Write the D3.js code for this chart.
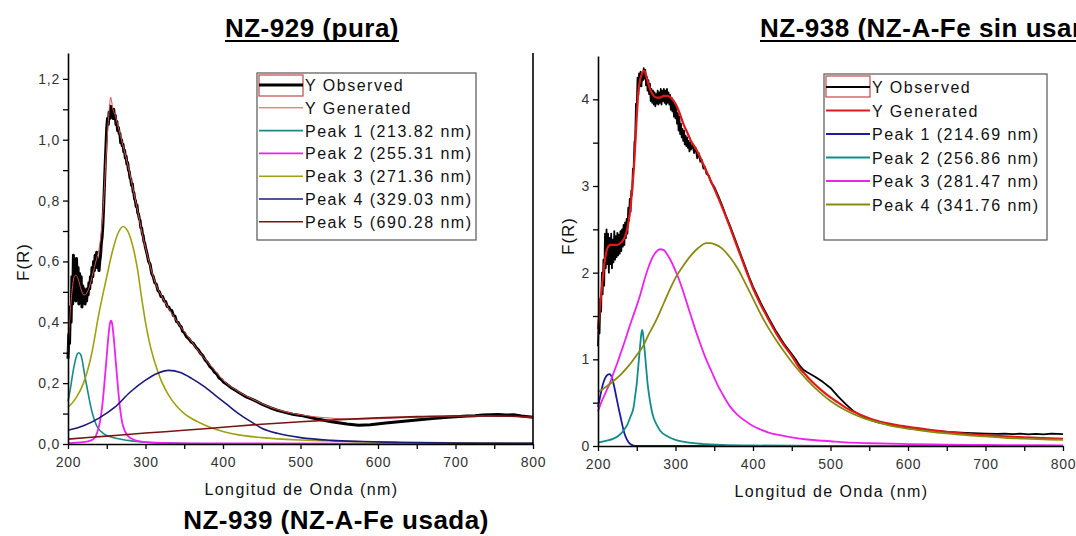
<!DOCTYPE html>
<html>
<head>
<meta charset="utf-8">
<script src="https://cdn.jsdelivr.net/npm/d3@7/dist/d3.min.js"></script>
<style>
  html, body { margin: 0; padding: 0; background: #ffffff; overflow: hidden; }
  svg { display: block; }
  text { font-family: "Liberation Sans", Arial, Helvetica, sans-serif; }
</style>
</head>
<body>
<svg id="chart" width="1076" height="536"></svg>
<script>
// ---------- Titles and axis text ----------
const panelTitles = ["NZ-929 (pura)", "NZ-938 (NZ-A-Fe sin usar)", "NZ-939 (NZ-A-Fe usada)"];
const xAxisTitle = "Longitud de Onda (nm)";
const yAxisTitle = "F(R)";

const xTickValues = [200, 250, 300, 350, 400, 450, 500, 550, 600, 650, 700, 750, 800];
const xTickLabels = ["200", "", "300", "", "400", "", "500", "", "600", "", "700", "", "800"];

const leftYTickValues = [0, 0.1, 0.2, 0.3, 0.4, 0.5, 0.6, 0.7, 0.8, 0.9, 1.0, 1.1, 1.2];
const leftYTickLabels = ["0,0", "", "0,2", "", "0,4", "", "0,6", "", "0,8", "", "1,0", "", "1,2"];
const rightYTickValues = [0, 0.5, 1, 1.5, 2, 2.5, 3, 3.5, 4];
const rightYTickLabels = ["0", "", "1", "", "2", "", "3", "", "4"];

const leftLegend = ["Y Observed", "Y Generated", "Peak 1 (213.82 nm)", "Peak 2 (255.31 nm)",
                    "Peak 3 (271.36 nm)", "Peak 4 (329.03 nm)", "Peak 5 (690.28 nm)"];
const rightLegend = ["Y Observed", "Y Generated", "Peak 1 (214.69 nm)", "Peak 2 (256.86 nm)",
                     "Peak 3 (281.47 nm)", "Peak 4 (341.76 nm)"];

// ---------- NZ-929 (pura): [wavelength nm, F(R)] ----------
const leftObserved = [
  [200,0.28],[201,0.36],[202,0.33],[203,0.45],[204,0.40],[205,0.55],[206,0.46],[207,0.62],[208,0.50],[209,0.60],
  [210,0.47],[211,0.61],[212,0.52],[213,0.58],[214,0.46],[215,0.56],[216,0.49],[217,0.55],[218,0.45],[219,0.52],
  [220,0.47],[221,0.51],[222,0.46],[223,0.49],[224,0.47],[225,0.51],[226,0.49],[227,0.53],[228,0.51],[229,0.55],
  [230,0.53],[231,0.58],[232,0.55],[233,0.60],[234,0.57],[235,0.62],[236,0.58],[237,0.63],[238,0.58],[239,0.60],
  [240,0.57],[241,0.60],[242,0.62],[243,0.66],[244,0.68],[245,0.72],[246,0.78],[247,0.85],[248,0.92],[249,0.98],
  [250,1.04],[251,1.07],[252,1.05],[253,1.09],[254,1.07],[255,1.11],[256,1.08],[257,1.10],[258,1.07],[259,1.10],
  [260,1.07],[261,1.08],[262,1.05],[263,1.06],[264,1.03],[265,1.04],[266,1.02],[267,1.02],[268,0.99],[269,1.00],
  [270,0.98],[271,0.985],[272,0.96],[273,0.965],[274,0.94],[275,0.945],[276,0.92],[277,0.925],[278,0.90],[279,0.895],
  [280,0.875],[281,0.87],[282,0.85],[283,0.855],[284,0.83],[285,0.825],[286,0.805],[287,0.80],[288,0.78],[289,0.785],
  [290,0.76],[291,0.755],[292,0.74],[293,0.735],[294,0.71],[295,0.71],[296,0.69],[297,0.685],[298,0.665],[299,0.66],
  [300,0.645],[302,0.625],[304,0.60],[306,0.59],[308,0.56],[310,0.55],[312,0.53],[314,0.525],[316,0.505],[318,0.50],
  [320,0.485],[322,0.485],[324,0.47],[326,0.468],[328,0.452],[330,0.45],[332,0.44],[334,0.438],[336,0.422],[338,0.42],
  [340,0.402],[342,0.40],[344,0.39],[346,0.385],[348,0.37],[350,0.366],[353,0.352],[356,0.346],[359,0.335],[362,0.33],
  [365,0.318],[368,0.31],[371,0.298],[374,0.29],[377,0.276],[380,0.268],[383,0.255],[386,0.248],[389,0.236],[392,0.23],
  [395,0.217],[398,0.212],[401,0.203],[405,0.196],[410,0.186],[415,0.178],[420,0.17],[430,0.155],[440,0.144],[450,0.131],
  [460,0.12],[470,0.111],[480,0.104],[490,0.098],[500,0.094],[520,0.083],[540,0.073],[560,0.066],[575,0.062],[590,0.063],
  [610,0.069],[630,0.074],[650,0.079],[670,0.084],[690,0.088],[705,0.090],[715,0.092],[725,0.093],[735,0.095],[745,0.096],
  [755,0.097],[765,0.095],[775,0.096],[785,0.092],[800,0.088]
];
const leftGenerated = [
  [200,0.30],[202,0.40],[204,0.47],[206,0.52],[208,0.55],[210,0.555],[212,0.55],[214,0.535],[216,0.515],[218,0.50],
  [220,0.49],[222,0.49],[225,0.50],[228,0.52],[231,0.55],[234,0.58],[237,0.61],[240,0.64],[243,0.70],[246,0.80],
  [249,0.94],[252,1.06],[254,1.12],[255,1.14],[256,1.13],[258,1.10],[261,1.08],[264,1.05],[268,1.01],[272,0.97],
  [276,0.93],[280,0.885],[285,0.825],[290,0.765],[295,0.70],[300,0.645],[305,0.595],[310,0.55],[315,0.515],[320,0.49],
  [330,0.445],[340,0.405],[350,0.37],[360,0.335],[370,0.30],[380,0.27],[390,0.24],[400,0.21],[420,0.172],[440,0.145],
  [460,0.122],[480,0.106],[500,0.096],[520,0.089],[540,0.085],[560,0.082],[580,0.082],[600,0.083],[620,0.085],[640,0.087],
  [660,0.088],[680,0.090],[700,0.091],[720,0.092],[740,0.092],[760,0.091],[780,0.090],[800,0.088]
];
const leftPeak1 = [
  [200,0.14],[203,0.18],[206,0.23],[209,0.27],[212,0.295],[214,0.30],[216,0.295],[218,0.28],[220,0.25],[222,0.22],
  [225,0.18],[228,0.14],[231,0.105],[234,0.08],[237,0.06],[240,0.048],[245,0.036],[250,0.028],[260,0.02],[270,0.015],
  [280,0.011],[300,0.006],[330,0.003],[380,0.001],[500,0.0],[800,0.0]
];
const leftPeak2 = [
  [200,0.003],[220,0.006],[230,0.012],[235,0.022],[238,0.04],[241,0.07],[244,0.12],[247,0.20],[250,0.29],[252,0.35],
  [254,0.395],[255.5,0.405],[257,0.395],[259,0.35],[261,0.29],[264,0.20],[267,0.12],[270,0.07],[273,0.045],[278,0.025],
  [285,0.014],[295,0.008],[320,0.004],[400,0.002],[800,0.001]
];
const leftPeak3 = [
  [200,0.12],[210,0.15],[220,0.20],[230,0.29],[240,0.43],[250,0.55],[258,0.64],[265,0.695],[271,0.715],[278,0.695],
  [285,0.635],[290,0.57],[295,0.48],[300,0.40],[305,0.335],[310,0.285],[315,0.245],[320,0.21],[330,0.16],[340,0.125],
  [350,0.10],[360,0.083],[370,0.07],[380,0.058],[400,0.041],[420,0.03],[450,0.021],[500,0.013],[550,0.009],[600,0.006],
  [700,0.004],[800,0.003]
];
const leftPeak4 = [
  [200,0.045],[220,0.06],[240,0.085],[260,0.12],[280,0.17],[300,0.21],[315,0.232],[330,0.242],[345,0.235],[360,0.215],
  [375,0.19],[390,0.16],[405,0.13],[420,0.10],[435,0.075],[450,0.052],[470,0.035],[500,0.021],[540,0.012],[580,0.008],
  [630,0.005],[700,0.003],[800,0.002]
];
const leftPeak5 = [
  [200,0.016],[250,0.026],[300,0.036],[350,0.045],[400,0.055],[450,0.065],[500,0.073],[550,0.080],[600,0.086],[650,0.090],
  [690,0.092],[730,0.092],[770,0.091],[800,0.089]
];

// ---------- NZ-938 (NZ-A-Fe sin usar): [wavelength nm, F(R)] ----------
const rightObserved = [
  [200,1.15],[201,1.45],[202,1.30],[203,1.70],[204,1.55],[205,2.00],[206,1.75],[207,2.15],[208,1.85],[209,2.45],
  [210,2.05],[211,2.50],[212,2.10],[213,2.45],[214,2.00],[215,2.40],[216,2.10],[217,2.45],[218,2.05],[219,2.38],
  [220,2.12],[221,2.48],[222,2.15],[223,2.42],[224,2.18],[225,2.46],[226,2.20],[227,2.44],[228,2.22],[229,2.48],
  [230,2.25],[231,2.50],[232,2.30],[233,2.55],[234,2.32],[235,2.58],[236,2.40],[237,2.62],[238,2.45],[239,2.75],
  [240,2.60],[241,2.85],[242,2.70],[243,2.95],[244,2.90],[245,3.20],[246,3.20],[247,3.50],[248,3.55],[249,3.95],
  [250,3.90],[251,4.25],[252,4.05],[253,4.30],[254,4.15],[255,4.32],[256,4.15],[257,4.30],[258,4.22],[259,4.36],
  [260,4.24],[261,4.34],[262,4.16],[263,4.26],[264,4.10],[265,4.22],[266,4.06],[267,4.18],[268,3.98],[269,4.12],
  [270,3.96],[271,4.10],[272,3.94],[273,4.08],[274,3.92],[275,4.06],[276,3.95],[277,4.10],[278,3.94],[279,4.08],
  [280,3.96],[281,4.12],[282,3.94],[283,4.10],[284,3.98],[285,4.12],[286,3.96],[287,4.10],[288,3.94],[289,4.12],
  [290,3.96],[291,4.08],[292,3.94],[293,4.05],[294,3.88],[295,4.02],[296,3.86],[297,3.98],[298,3.80],[299,3.94],
  [300,3.78],[301,3.92],[302,3.72],[303,3.84],[304,3.64],[305,3.80],[306,3.60],[307,3.72],[308,3.56],[309,3.66],
  [310,3.52],[311,3.64],[312,3.48],[313,3.58],[314,3.46],[315,3.56],[316,3.44],[317,3.52],[318,3.40],[319,3.50],
  [320,3.42],[322,3.48],[324,3.38],[326,3.44],[328,3.32],[330,3.38],[332,3.28],[334,3.30],[336,3.20],[338,3.22],
  [340,3.14],[343,3.12],[346,3.04],[350,2.99],[355,2.89],[360,2.78],[365,2.66],[370,2.55],[375,2.43],[380,2.31],
  [385,2.19],[390,2.07],[395,1.95],[400,1.84],[410,1.65],[420,1.48],[430,1.32],[440,1.18],[450,1.06],[455,1.00],
  [460,0.93],[465,0.88],[470,0.85],[480,0.80],[490,0.74],[500,0.67],[510,0.57],[520,0.48],[530,0.40],[540,0.35],
  [550,0.305],[560,0.275],[580,0.235],[600,0.205],[625,0.18],[650,0.163],[675,0.152],[700,0.143],[715,0.140],[725,0.142],
  [735,0.136],[745,0.143],[755,0.134],[765,0.141],[775,0.135],[785,0.142],[800,0.136]
];
const rightGenerated = [
  [200,1.35],[203,1.65],[206,1.92],[209,2.15],[212,2.28],[216,2.32],[220,2.32],[225,2.32],[230,2.35],[235,2.42],
  [238,2.52],[241,2.68],[244,2.95],[247,3.30],[250,3.80],[252,4.08],[255,4.25],[258,4.32],[260,4.33],[262,4.28],
  [265,4.18],[268,4.10],[272,4.04],[276,4.02],[280,4.02],[285,4.04],[290,4.04],[295,4.01],[300,3.95],[305,3.85],
  [310,3.72],[315,3.62],[320,3.52],[325,3.45],[330,3.37],[335,3.27],[340,3.17],[345,3.07],[350,2.97],[360,2.76],
  [370,2.53],[380,2.29],[390,2.05],[400,1.82],[410,1.63],[420,1.46],[430,1.30],[440,1.16],[450,1.04],[460,0.90],
  [470,0.80],[480,0.71],[490,0.63],[500,0.56],[510,0.50],[520,0.44],[530,0.395],[540,0.355],[550,0.32],[560,0.29],
  [580,0.25],[600,0.22],[625,0.19],[650,0.163],[675,0.14],[700,0.123],[725,0.11],[750,0.10],[775,0.09],[800,0.083]
];
const rightPeak1 = [
  [200,0.45],[203,0.58],[206,0.70],[209,0.78],[212,0.82],[215,0.83],[218,0.79],[221,0.68],[224,0.55],[227,0.42],
  [230,0.30],[233,0.18],[236,0.10],[239,0.05],[242,0.02],[246,0.005],[250,0.0],[800,0.0]
];
const rightPeak2 = [
  [200,0.04],[210,0.06],[220,0.085],[228,0.13],[234,0.19],[238,0.25],[242,0.34],[246,0.45],[248,0.58],[250,0.72],
  [252,0.92],[254,1.12],[256,1.30],[257,1.34],[258,1.30],[260,1.12],[262,0.92],[264,0.72],[266,0.58],[268,0.47],
  [270,0.38],[272,0.32],[276,0.24],[280,0.18],[290,0.11],[300,0.07],[310,0.05],[320,0.035],[340,0.02],[360,0.012],
  [400,0.006],[500,0.002],[800,0.0]
];
const rightPeak3 = [
  [200,0.40],[205,0.52],[210,0.62],[215,0.72],[220,0.84],[225,0.96],[230,1.09],[235,1.22],[240,1.36],[245,1.49],
  [250,1.62],[255,1.76],[260,1.92],[265,2.06],[270,2.17],[275,2.24],[280,2.27],[285,2.26],[290,2.20],[295,2.12],
  [300,2.02],[305,1.91],[310,1.78],[315,1.64],[320,1.50],[325,1.36],[330,1.23],[336,1.08],[340,0.99],[345,0.89],
  [350,0.79],[355,0.69],[360,0.61],[365,0.53],[370,0.46],[380,0.36],[390,0.29],[400,0.23],[410,0.19],[420,0.155],
  [435,0.125],[450,0.10],[470,0.075],[500,0.055],[520,0.042],[550,0.032],[600,0.022],[650,0.016],[700,0.012],[750,0.010],
  [800,0.008]
];
const rightPeak4 = [
  [200,0.62],[210,0.68],[220,0.75],[230,0.83],[240,0.93],[250,1.05],[258,1.15],[265,1.28],[275,1.45],[285,1.65],
  [295,1.85],[300,1.94],[310,2.08],[320,2.20],[330,2.29],[340,2.34],[345,2.34],[350,2.33],[360,2.28],[370,2.18],
  [380,2.05],[390,1.88],[400,1.70],[410,1.52],[420,1.36],[430,1.22],[440,1.09],[450,0.97],[460,0.86],[470,0.76],
  [480,0.67],[490,0.59],[500,0.52],[520,0.41],[540,0.33],[560,0.275],[580,0.23],[600,0.20],[625,0.17],[650,0.145],
  [675,0.125],[700,0.11],[725,0.095],[750,0.085],[775,0.077],[800,0.07]
];

// ---------- drawing ----------
const svg = d3.select("#chart");

function drawPanel(p) {
  const x = d3.scaleLinear().domain([200, 800]).range(p.xRange);
  const y = d3.scaleLinear().domain(p.yDomain).range(p.yRange);
  const g = svg.append("g");

  // curves
  p.series.forEach(s => {
    const line = d3.line()
      .x(d => x(d[0]))
      .y(d => y(d[1]))
      .curve(s.smooth ? d3.curveMonotoneX : d3.curveLinear);
    g.append("path")
      .datum(s.data)
      .attr("d", line)
      .attr("fill", "none")
      .attr("stroke", s.color)
      .attr("stroke-width", s.width)
      .attr("stroke-linejoin", "round");
  });

  // axes
  const xAxis = d3.axisBottom(x)
    .tickValues(xTickValues)
    .tickFormat((d, i) => xTickLabels[i])
    .tickSizeInner(5).tickSizeOuter(0).tickPadding(4);
  const gx = g.append("g").attr("transform", `translate(0,${p.yRange[0]})`).call(xAxis);

  const yAxis = d3.axisLeft(y)
    .tickValues(p.yTicks)
    .tickFormat((d, i) => p.yLabels[i])
    .tickSizeInner(5).tickSizeOuter(0).tickPadding(3);
  const gy = g.append("g").attr("transform", `translate(${p.xRange[0]},0)`).call(yAxis);

  [gx, gy].forEach(a => {
    a.select(".domain").attr("stroke", "#000").attr("stroke-width", 1.6);
    a.selectAll(".tick line").attr("stroke", "#000").attr("stroke-width", 1.3);
    a.selectAll(".tick text")
      .attr("fill", "#333")
      .style("font-size", "14px")
      .style("letter-spacing", "0.8px")
      .style("font-family", '"Liberation Sans", Arial, sans-serif');
  });
  gx.selectAll(".tick text").attr("dy", "1.0em");

  if (p.rightFrame) {
    g.append("line")
      .attr("x1", p.xRange[1]).attr("x2", p.xRange[1])
      .attr("y1", p.yRange[0]).attr("y2", p.yRange[1])
      .attr("stroke", "#000").attr("stroke-width", 1.6);
  }

  // axis titles
  g.append("text")
    .attr("x", (p.xRange[0] + p.xRange[1]) / 2 + 1)
    .attr("y", p.yRange[0] + 51)
    .attr("text-anchor", "middle")
    .style("font-size", "16px")
    .style("letter-spacing", "1.4px")
    .attr("fill", "#111")
    .text(xAxisTitle);
  g.append("text")
    .attr("transform", `translate(${p.yTitleX},${p.yTitleY}) rotate(-90)`)
    .attr("text-anchor", "middle")
    .style("font-size", "17px")
    .style("letter-spacing", "1px")
    .attr("fill", "#111")
    .text(yAxisTitle);

  // legend
  const L = p.legend;
  const lg = g.append("g");
  lg.append("rect")
    .attr("x", L.x).attr("y", L.y).attr("width", L.w).attr("height", L.h)
    .attr("fill", "#fff").attr("stroke", "#555").attr("stroke-width", 1.2);
  lg.append("rect")
    .attr("x", L.x + 2).attr("y", L.y + 2).attr("width", L.sample).attr("height", 21)
    .attr("fill", "none").attr("stroke", "#c04848").attr("stroke-width", 1.2);
  L.labels.forEach((lab, i) => {
    const s = p.series[i];
    const cy = L.y + L.first + i * L.step;
    lg.append("line")
      .attr("x1", L.x + 2).attr("x2", L.x + 2 + L.sample)
      .attr("y1", cy).attr("y2", cy)
      .attr("stroke", s.color).attr("stroke-width", s.legendWidth || s.width);
    lg.append("text")
      .attr("x", L.x + L.sample + 4).attr("y", cy + 6)
      .style("font-size", "16px")
      .style("letter-spacing", "1.5px")
      .attr("fill", "#111")
      .text(lab);
  });
}

drawPanel({
  xRange: [68, 533],
  yDomain: [0, 1.285],
  yRange: [444, 53],
  yTicks: leftYTickValues,
  yLabels: leftYTickLabels,
  rightFrame: true,
  yTitleX: 29, yTitleY: 262,
  series: [
    { data: leftObserved,  color: "#000000", width: 3.0, legendWidth: 3.2 },
    { data: leftGenerated, color: "#d45050", width: 1.0, smooth: true },
    { data: leftPeak1, color: "#168a8a", width: 1.6, smooth: true },
    { data: leftPeak2, color: "#ee22ee", width: 1.8, smooth: true },
    { data: leftPeak3, color: "#a0a010", width: 1.6, smooth: true },
    { data: leftPeak4, color: "#1a1a7a", width: 1.6, smooth: true },
    { data: leftPeak5, color: "#7a1414", width: 1.6, smooth: true }
  ],
  legend: { x: 257, y: 73, w: 219, h: 167, sample: 44, first: 12, step: 22.8, labels: leftLegend }
});

drawPanel({
  xRange: [598, 1063],
  yDomain: [0, 4.5],
  yRange: [446, 56],
  yTicks: rightYTickValues,
  yLabels: rightYTickLabels,
  rightFrame: false,
  yTitleX: 574, yTitleY: 236,
  series: [
    { data: rightObserved,  color: "#000000", width: 1.8 },
    { data: rightGenerated, color: "#e01818", width: 2.2, smooth: true },
    { data: rightPeak1, color: "#1c1ca0", width: 1.8, smooth: true },
    { data: rightPeak2, color: "#138c8c", width: 1.8, smooth: true },
    { data: rightPeak3, color: "#ee22ee", width: 1.8, smooth: true },
    { data: rightPeak4, color: "#8a8a12", width: 1.8, smooth: true }
  ],
  legend: { x: 824, y: 74, w: 223, h: 166, sample: 44, first: 13, step: 23.5, labels: rightLegend }
});

// panel titles
function title(txt, x, anchor, yBase, underline) {
  const t = svg.append("text")
    .attr("x", x).attr("y", yBase)
    .attr("text-anchor", anchor)
    .style("font-size", "26px")
    .style("font-weight", "bold")
    .style("letter-spacing", "0.5px")
    .attr("fill", "#000")
    .text(txt);
  if (underline) {
    const b = t.node().getBBox();
    svg.append("line")
      .attr("x1", b.x).attr("x2", b.x + b.width)
      .attr("y1", yBase + 4).attr("y2", yBase + 4)
      .attr("stroke", "#000").attr("stroke-width", 2.2);
  }
}
title(panelTitles[0], 312, "middle", 37, true);
title(panelTitles[1], 760, "start", 37, true);
title(panelTitles[2], 336, "middle", 529, false);
</script>
</body>
</html>
